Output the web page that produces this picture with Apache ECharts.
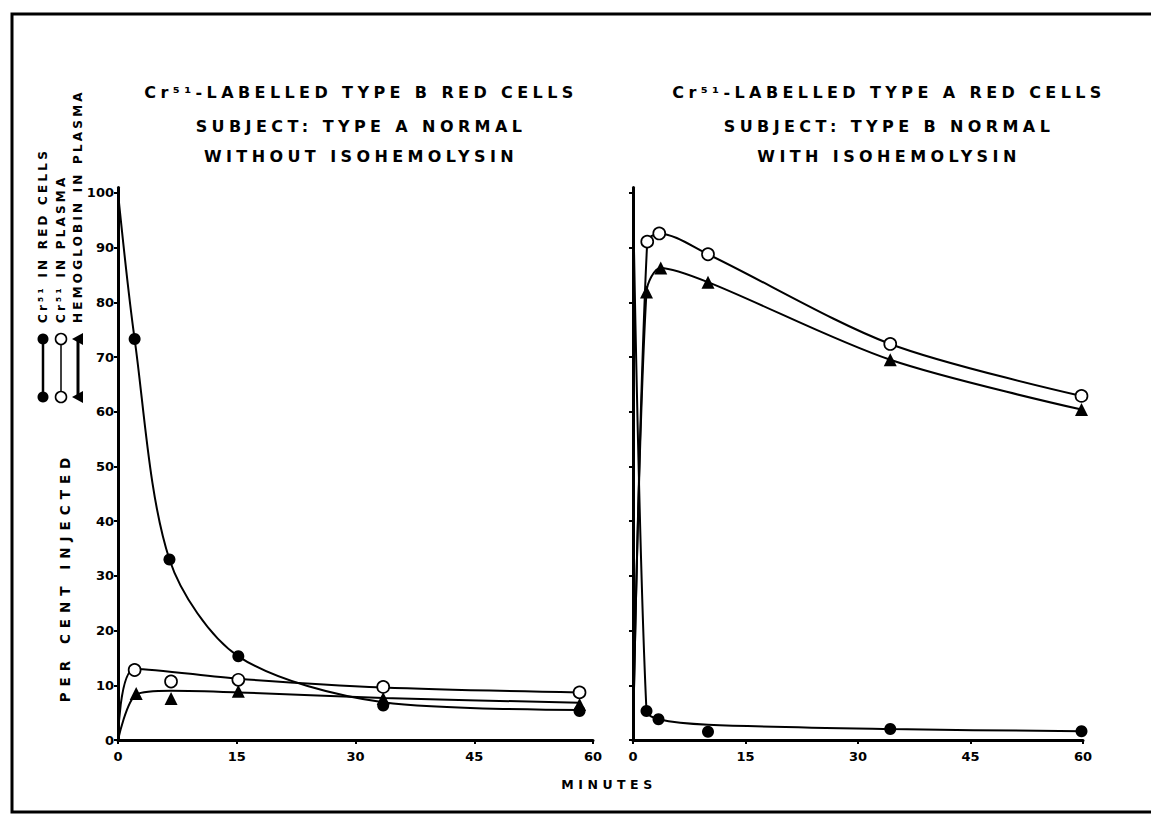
<!DOCTYPE html>
<html><head><meta charset="utf-8">
<script src="https://cdn.jsdelivr.net/npm/echarts@6/dist/echarts.min.js"></script>
<style>
html,body{margin:0;padding:0;background:#fff;}
#chart{width:1151px;height:818px;}
#chart text[style*="16px"]{letter-spacing:4.4px;}
#chart text[style*="12px"]{letter-spacing:3.2px;}
#chart text[style*="13.5px"]{letter-spacing:6px;}
#chart text[style*="12.5px"]{letter-spacing:4.5px;}
</style></head><body><div id="chart"></div><script>
// ---- data ----
const xTicks = [0, 15, 30, 45, 60];
const yTicks = [0, 10, 20, 30, 40, 50, 60, 70, 80, 90, 100];
const leftTitle = ['Cr⁵¹-LABELLED TYPE B RED CELLS', 'SUBJECT: TYPE A NORMAL', 'WITHOUT ISOHEMOLYSIN'];
const rightTitle = ['Cr⁵¹-LABELLED TYPE A RED CELLS', 'SUBJECT: TYPE B NORMAL', 'WITH ISOHEMOLYSIN'];
const legendLabels = ['Cr⁵¹ IN RED CELLS', 'Cr⁵¹ IN PLASMA', 'HEMOGLOBIN IN PLASMA'];
const yName = 'PER CENT INJECTED';
const xName = 'MINUTES';
// left panel: type B cells, type A subject, without isohemolysin
const leftRedPoints = [[2.1, 73.3], [6.5, 33], [15.2, 15.3], [33.5, 6.3], [58.3, 5.3]];
const leftRedCurve = [[0, 100], [2.1, 73.3], [6.5, 33], [15.2, 15.3], [33.5, 6.9], [58.3, 5.5]];
const leftPlasmaPoints = [[2.1, 12.8], [6.7, 10.7], [15.2, 11.0], [33.5, 9.7], [58.3, 8.7]];
const leftPlasmaCurve = [[0, 0], [2.1, 13.0], [15.2, 11.2], [33.5, 9.6], [58.3, 8.7]];
const leftHbPoints = [[2.3, 8.5], [6.7, 7.6], [15.2, 8.9], [33.5, 7.6], [58.3, 6.5]];
const leftHbCurve = [[0, 0], [2.3, 8.3], [6.7, 9.0], [15.2, 8.7], [33.5, 7.7], [58.3, 6.8]];
// right panel: type A cells, type B subject, with isohemolysin
const rightRedPoints = [[1.8, 5.3], [3.4, 3.8], [10, 1.5], [34.3, 2.0], [59.8, 1.6]];
const rightRedCurve = [[0, 100], [1.8, 5.3], [3.4, 3.8], [10, 2.8], [34.3, 2.0], [59.8, 1.6]];
const rightPlasmaPoints = [[1.9, 91.1], [3.5, 92.6], [10, 88.8], [34.3, 72.4], [59.8, 62.9]];
const rightPlasmaCurve = [[0, 0], [1.9, 91.1], [3.5, 92.6], [10, 88.8], [34.3, 72.4], [59.8, 62.9]];
const rightHbPoints = [[1.8, 81.9], [3.7, 86.3], [10, 83.7], [34.3, 69.5], [59.8, 60.4]];
const rightHbCurve = [[0, 0], [1.8, 81.9], [3.7, 86.3], [10, 83.7], [34.3, 69.5], [59.8, 60.4]];

// ---- chart ----
const FONT = '"DejaVu Sans", sans-serif';
const INK = '#000';
const chart = echarts.init(document.getElementById('chart'), null, {renderer: 'svg'});

const markers = {
  red: {symbol: 'circle', symbolSize: 12, itemStyle: {color: INK, opacity: 1}},
  plasma: {symbol: 'circle', symbolSize: 12, itemStyle: {color: '#fff', borderColor: INK, borderWidth: 1.7, opacity: 1}},
  hb: {symbol: 'triangle', symbolSize: 13, itemStyle: {color: INK, opacity: 1}}
};

function curve(name, idx, data) {
  return {name: name, type: 'line', xAxisIndex: idx, yAxisIndex: idx, data: data,
    smooth: 0.3, symbol: 'none', showSymbol: false, silent: true, z: 2,
    lineStyle: {color: INK, width: 2}};
}
function points(name, idx, data, m) {
  return Object.assign({name: name, type: 'scatter', xAxisIndex: idx, yAxisIndex: idx, data: data, z: 3, silent: true}, m);
}

function xAxis(idx) {
  return {gridIndex: idx, type: 'value', min: 0, max: 60, interval: 15,
    axisLine: {show: true, lineStyle: {color: INK, width: 3}},
    axisTick: {show: true, length: 4, lineStyle: {color: INK, width: 2}},
    axisLabel: {color: INK, fontFamily: FONT, fontWeight: 'bold', fontSize: 13, margin: 10},
    splitLine: {show: false}};
}
function yAxis(idx, labels) {
  return {gridIndex: idx, type: 'value', min: 0, max: 101,
    axisLine: {show: true, onZero: false, lineStyle: {color: INK, width: 3}},
    axisTick: {show: true, length: 4, customValues: yTicks, lineStyle: {color: INK, width: 2}},
    axisLabel: {show: labels, customValues: yTicks, color: INK, fontFamily: FONT, fontWeight: 'bold', fontSize: 13, margin: 4},
    splitLine: {show: false}};
}

function titleTexts(cx, lines) {
  const ys = [92, 126, 156];
  return lines.map((t, i) => ({type: 'text', x: cx, y: ys[i], silent: true,
    style: {text: t, align: 'center', verticalAlign: 'middle', fill: INK, font: 'bold 16px ' + FONT}}));
}

function legendEntry(x, label, kind) {
  const y1 = 339, y2 = 397;
  const els = [];
  const lw = kind === 'plasma' ? 1.5 : (kind === 'hb' ? 3 : 2.5);
  els.push({type: 'line', shape: {x1: x, y1: y1, x2: x, y2: y2}, style: {stroke: INK, lineWidth: lw}});
  [y1, y2].forEach(y => {
    if (kind === 'red') els.push({type: 'circle', shape: {cx: x, cy: y, r: 5.5}, style: {fill: INK}});
    else if (kind === 'plasma') els.push({type: 'circle', shape: {cx: x, cy: y, r: 5.5}, style: {fill: '#fff', stroke: INK, lineWidth: 1.6}});
    else els.push({type: 'polygon', shape: {points: [[x - 6, y], [x + 5, y - 6], [x + 5, y + 6]]}, style: {fill: INK}});
  });
  els.push({type: 'text', x: x, y: 323, rotation: Math.PI / 2,
    style: {text: label, align: 'left', verticalAlign: 'middle', fill: INK, font: 'bold 12px ' + FONT}});
  return els;
}

const graphics = [].concat(
  [{type: 'polyline', silent: true, shape: {points: [[1151, 14], [12, 14], [12, 812], [1151, 812]]},
    style: {stroke: INK, lineWidth: 3, fill: null}}],
  titleTexts(361, leftTitle),
  titleTexts(889, rightTitle),
  legendEntry(43, legendLabels[0], 'red'),
  legendEntry(61, legendLabels[1], 'plasma'),
  legendEntry(78, legendLabels[2], 'hb'),
  [{type: 'text', x: 65, y: 577, rotation: Math.PI / 2,
    style: {text: yName, align: 'center', verticalAlign: 'middle', fill: INK, font: 'bold 13.5px ' + FONT}},
   {type: 'text', x: 609, y: 784,
    style: {text: xName, align: 'center', verticalAlign: 'middle', fill: INK, font: 'bold 12.5px ' + FONT}}]
);

chart.setOption({
  animation: false,
  backgroundColor: '#fff',
  grid: [
    {left: 118, top: 187.5, width: 475, height: 552.5},
    {left: 633, top: 187.5, width: 450, height: 552.5}
  ],
  xAxis: [xAxis(0), xAxis(1)],
  yAxis: [yAxis(0, true), yAxis(1, false)],
  series: [
    curve(legendLabels[0], 0, leftRedCurve),
    curve(legendLabels[1], 0, leftPlasmaCurve),
    curve(legendLabels[2], 0, leftHbCurve),
    points(legendLabels[0], 0, leftRedPoints, markers.red),
    points(legendLabels[1], 0, leftPlasmaPoints, markers.plasma),
    points(legendLabels[2], 0, leftHbPoints, markers.hb),
    curve(legendLabels[0], 1, rightRedCurve),
    curve(legendLabels[1], 1, rightPlasmaCurve),
    curve(legendLabels[2], 1, rightHbCurve),
    points(legendLabels[0], 1, rightRedPoints, markers.red),
    points(legendLabels[1], 1, rightPlasmaPoints, markers.plasma),
    points(legendLabels[2], 1, rightHbPoints, markers.hb)
  ],
  graphic: graphics
});
</script></body></html>
